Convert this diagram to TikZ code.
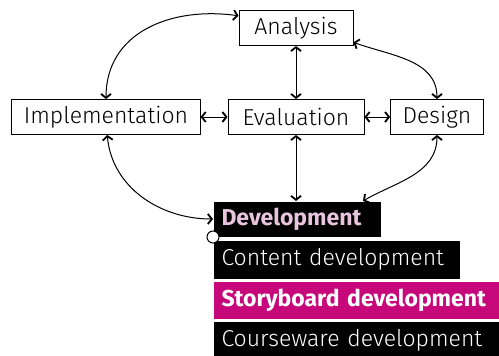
\documentclass[tikz,border=0pt]{standalone}
\usepackage{fontspec}
\setmainfont{Fira Sans Light}[BoldFont={Fira Sans Bold}]
\usetikzlibrary{positioning, arrows.meta}
\definecolor{storymagenta}{RGB}{198,8,122}
\definecolor{devpink}{RGB}{232,196,222}

\begin{document}
\begin{tikzpicture}[x=1pt, y=-1pt, <->,
            >={Straight Barb[length=4pt, width=10pt, line width=1.8pt]},
            every path/.style={line width=1pt},
            stage/.style={draw, line width=0.9pt, minimum height=35pt, inner xsep=12pt,
            font=\fontsize{23}{26}\selectfont},
            phase/.style={fill=black, text=white, inner xsep=8pt, inner ysep=0pt,
            align=left, font=\fontsize{23}{26}\selectfont}]
          \useasboundingbox (0,0) rectangle (499,356);
          \node[stage, minimum width=114pt] (analysis) at (296,28) {Analysis};
          \node[stage, minimum width=136pt] (eval) at (296,117) {Evaluation};
          \node[stage] (impl) at (106,117) {Implementation};
          \node[stage] (design) at (437,117) {Design};
          % development phase list
          \node[phase, anchor=north west, text width=151pt, minimum height=35pt,
                text=devpink, font=\fontsize{23}{26}\selectfont\bfseries] (dev) at (213,201) {Development};
          \node[phase, below right=3pt and 0pt of dev.south west, text width=230pt, minimum height=38pt] (content) {Content development};
          \node[phase, below right=2pt and 0pt of content.south west, text width=270pt, minimum height=37pt,
                fill=storymagenta, font=\fontsize{23}{26}\selectfont\bfseries] (story) {Storyboard development};
          \node[phase, below right=2pt and 0pt of story.south west, text width=270pt, minimum height=38pt] (course) {Courseware development};
          \draw[-, fill=white, line width=1pt] (dev.south west) circle (6pt);
          % links
          \draw (impl.north) to[out=90, in=172, looseness=1.1] (analysis.168);
          \draw (analysis.-14) to[out=-20, in=90] (design.north);
          \draw (analysis) -- (eval);
          \draw (impl) -- (eval);
          \draw (eval) -- (design);
          \draw (eval) -- (eval |- dev.north);
          \draw (design.south) to[out=-90, in=30] ([xshift=-18pt]dev.north east);
          \draw (impl.-86) to[out=-85, in=180] (dev.west);
        \end{tikzpicture}
\end{document}
